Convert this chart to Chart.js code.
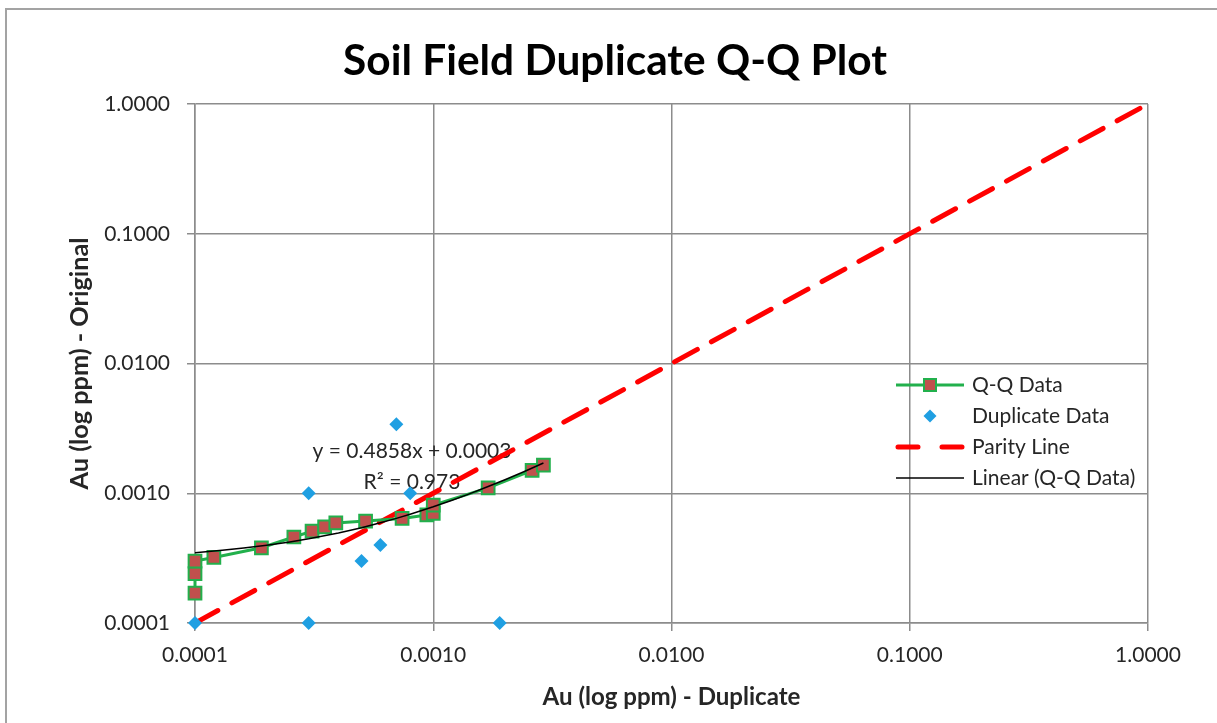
<!DOCTYPE html>
<html>
<head>
<meta charset="utf-8">
<title>Soil Field Duplicate Q-Q Plot</title>
<script src="https://cdn.jsdelivr.net/npm/chart.js@4.4.1/dist/chart.umd.min.js"></script>
<style>
  html, body { margin: 0; padding: 0; background: #fff; }
  canvas { display: block; }
</style>
</head>
<body>
<canvas id="chart" width="1217" height="723"></canvas>
<script>
// Q-Q data (sorted duplicate vs sorted original), ppm
const qqX = [0.0001, 0.0001, 0.0001, 0.00012, 0.00019, 0.00026, 0.00031, 0.00035, 0.00039, 0.00052, 0.00074, 0.00094, 0.0010, 0.0010, 0.0017, 0.0026, 0.0029];
const qqY = [0.00017, 0.00024, 0.00030, 0.00032, 0.00038, 0.00046, 0.00051, 0.00055, 0.00059, 0.00061, 0.00064, 0.00068, 0.00070, 0.00081, 0.0011, 0.0015, 0.00165];

// raw duplicate pairs
const dupX = [0.0001, 0.0003, 0.0019, 0.0003, 0.0008, 0.0007, 0.0005, 0.0006];
const dupY = [0.0001, 0.0001, 0.0001, 0.0010, 0.0010, 0.0034, 0.0003, 0.0004];

// parity line 1:1
const parityX = [0.0001, 1];
const parityY = [0.0001, 1];

// linear trendline shown on the chart, evaluated across the Q-Q range
const trendSlope = 0.4858;
const trendIntercept = 0.0003;
const trendR2 = 0.973;
const trendX = [0.0001, 0.00013, 0.00016, 0.0002, 0.00025, 0.0003, 0.0004, 0.0005, 0.0006, 0.0007, 0.0008, 0.001, 0.0012, 0.0014, 0.0017, 0.002, 0.0024, 0.0029];

const tickValues = [0.0001, 0.001, 0.01, 0.1, 1];
const tickLabels = ['0.0001', '0.0010', '0.0100', '0.1000', '1.0000'];

const seriesNames = ['Q-Q Data', 'Duplicate Data', 'Parity Line', 'Linear (Q-Q Data)'];

const GREEN = '#22b04c';
const BROWN = '#c0504d';
const BLUE = '#1f9fe2';
const RED = '#ff0000';
const GRID = '#8c8c8c';
const FONT = 'Lato, "Open Sans", sans-serif';

const pts = (xs, ys) => xs.map((x, i) => ({ x: x, y: ys[i] }));
const trendPts = trendX.map(x => ({ x: x, y: trendSlope * x + trendIntercept }));

function fitText(ctx, text, weight, maxSize, width) {
  let size = maxSize;
  ctx.font = weight + ' ' + size + 'px ' + FONT;
  const w = ctx.measureText(text).width;
  size = size * width / w;
  ctx.font = weight + ' ' + size.toFixed(2) + 'px ' + FONT;
}

const decorations = {
  id: 'decorations',
  beforeDraw(chart) {
    const ctx = chart.ctx;
    ctx.save();
    ctx.fillStyle = '#fff';
    ctx.fillRect(0, 0, chart.width, chart.height);
    ctx.strokeStyle = '#a3a3a3';
    ctx.lineWidth = 2;
    ctx.strokeRect(6, 9, chart.width + 10, chart.height + 10);
    ctx.restore();
  },
  beforeDatasetsDraw(chart) {
    const ctx = chart.ctx;
    ctx.save();
    ctx.fillStyle = '#262626';
    ctx.textAlign = 'center';
    ctx.textBaseline = 'middle';
    ctx.font = '21px ' + FONT;
    ctx.fillText('y = ' + trendSlope + 'x + ' + trendIntercept.toFixed(4), 412, 451);
    ctx.fillText('R\u00b2 = ' + trendR2, 412, 482);
    ctx.restore();
  },
  afterDraw(chart) {
    const ctx = chart.ctx;
    const area = chart.chartArea;
    ctx.save();
    ctx.fillStyle = '#000';
    ctx.textAlign = 'center';
    ctx.textBaseline = 'alphabetic';

    // title
    fitText(ctx, 'Soil Field Duplicate Q-Q Plot', 'bold', 38, 544);
    ctx.fillText('Soil Field Duplicate Q-Q Plot', 615, 75);

    // axis titles
    const cx = (area.left + area.right) / 2;
    const cy = (area.top + area.bottom) / 2;
    ctx.fillStyle = '#262626';
    fitText(ctx, 'Au (log ppm) - Duplicate', 'bold', 20, 258);
    ctx.textBaseline = 'middle';
    ctx.fillText('Au (log ppm) - Duplicate', cx, 697);
    ctx.save();
    ctx.translate(80, cy);
    ctx.rotate(-Math.PI / 2);
    fitText(ctx, 'Au (log ppm) - Original', 'bold', 20, 252);
    ctx.fillText('Au (log ppm) - Original', 0, 0);
    ctx.restore();

    // legend inside the plot
    const lx0 = 896, lx1 = 964, mx = 930, tx = 972;
    const rows = [385, 416, 447, 478];
    ctx.textAlign = 'left';
    ctx.textBaseline = 'middle';
    ctx.font = '21px ' + FONT;
    ctx.fillStyle = '#262626';
    seriesNames.forEach((name, i) => ctx.fillText(name, tx, rows[i]));

    ctx.strokeStyle = GREEN;
    ctx.lineWidth = 3;
    ctx.beginPath(); ctx.moveTo(lx0, rows[0]); ctx.lineTo(lx1, rows[0]); ctx.stroke();
    ctx.fillStyle = BROWN;
    ctx.fillRect(mx - 6, rows[0] - 6, 12, 12);
    ctx.lineWidth = 2;
    ctx.strokeRect(mx - 6, rows[0] - 6, 12, 12);

    ctx.fillStyle = BLUE;
    ctx.beginPath();
    ctx.moveTo(mx, rows[1] - 6.5); ctx.lineTo(mx + 6.5, rows[1]);
    ctx.lineTo(mx, rows[1] + 6.5); ctx.lineTo(mx - 6.5, rows[1]);
    ctx.closePath(); ctx.fill();

    ctx.strokeStyle = RED;
    ctx.lineWidth = 5;
    ctx.lineCap = 'round';
    ctx.beginPath();
    ctx.moveTo(lx0 + 2, rows[2]); ctx.lineTo(lx0 + 22, rows[2]);
    ctx.moveTo(lx1 - 22, rows[2]); ctx.lineTo(lx1 - 2, rows[2]);
    ctx.stroke();

    ctx.strokeStyle = '#000';
    ctx.lineWidth = 1.5;
    ctx.lineCap = 'butt';
    ctx.beginPath(); ctx.moveTo(lx0, rows[3]); ctx.lineTo(lx1, rows[3]); ctx.stroke();
    ctx.restore();
  }
};

const logAxis = (position) => ({
  type: 'logarithmic',
  position: position,
  min: 0.0001,
  max: 1,
  afterBuildTicks: (scale) => { scale.ticks = tickValues.map(v => ({ value: v })); },
  ticks: {
    callback: (v) => tickLabels[tickValues.findIndex(t => Math.abs(t - v) / t < 1e-6)],
    color: '#262626',
    font: { family: FONT, size: 21 },
    padding: position === 'left' ? 17 : 12,
    autoSkip: false,
    maxRotation: 0
  },
  grid: { color: GRID, lineWidth: 1.5, tickLength: 8, tickColor: GRID },
  border: { color: GRID, width: 1.5 }
});

const xAxis = logAxis('bottom');
xAxis.afterFit = (s) => { s.height = 100; };
const yAxis = logAxis('left');
yAxis.afterFit = (s) => { s.width = 195; };

new Chart(document.getElementById('chart'), {
  type: 'scatter',
  data: {
    datasets: [
      {
        label: seriesNames[3],
        data: trendPts,
        showLine: true,
        borderColor: '#000',
        borderWidth: 1.5,
        pointRadius: 0,
        tension: 0,
        order: 0
      },
      {
        label: seriesNames[1],
        data: pts(dupX, dupY),
        pointStyle: 'rectRot',
        pointRadius: 7,
        backgroundColor: BLUE,
        borderColor: BLUE,
        borderWidth: 0,
        clip: false,
        order: 1
      },
      {
        label: seriesNames[0],
        data: pts(qqX, qqY),
        showLine: true,
        borderColor: GREEN,
        borderWidth: 3,
        pointStyle: 'rect',
        pointRadius: 9,
        pointBackgroundColor: BROWN,
        pointBorderColor: GREEN,
        pointBorderWidth: 2,
        clip: false,
        order: 2
      },
      {
        label: seriesNames[2],
        data: pts(parityX, parityY),
        showLine: true,
        borderColor: RED,
        borderWidth: 5,
        borderDash: [26, 16],
        borderCapStyle: 'round',
        pointRadius: 0,
        order: 3
      }
    ]
  },
  options: {
    responsive: false,
    animation: false,
    layout: { padding: { top: 104, right: 69, left: 0, bottom: 0 } },
    plugins: {
      legend: { display: false },
      title: { display: false },
      tooltip: { enabled: false }
    },
    scales: { x: xAxis, y: yAxis }
  },
  plugins: [decorations]
});
</script>
</body>
</html>
